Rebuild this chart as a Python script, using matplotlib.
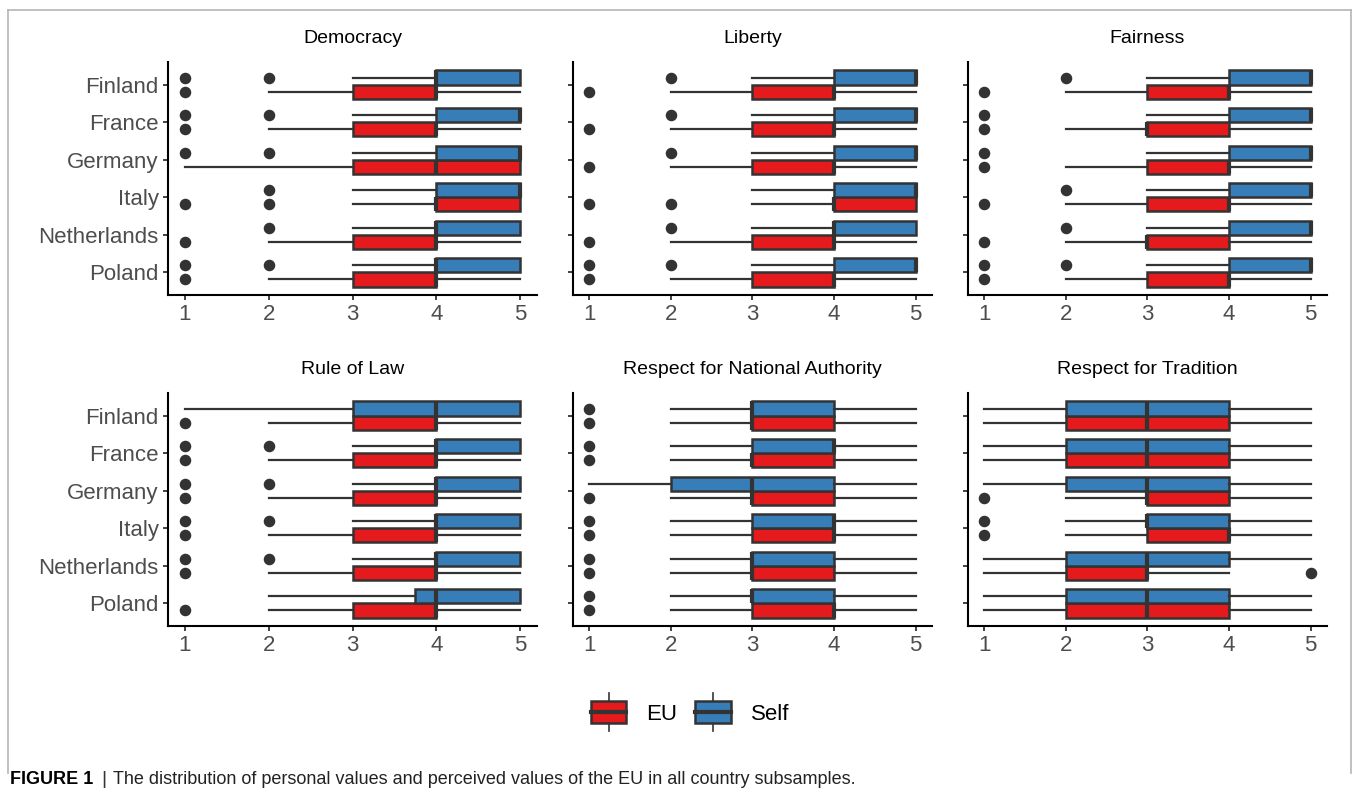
import matplotlib
matplotlib.use("Agg")
import matplotlib.pyplot as plt
from matplotlib.patches import Rectangle
from matplotlib.lines import Line2D
from matplotlib.legend_handler import HandlerBase

plt.rcParams['font.family'] = ['Liberation Sans', 'DejaVu Sans']

countries = ["Finland", "France", "Germany", "Italy", "Netherlands", "Poland"]
panel_titles = ["Democracy", "Liberty", "Fairness",
                "Rule of Law", "Respect for National Authority", "Respect for Tradition"]

# box stats per country (Finland..Poland): (whislo, q1, med, q3, whishi)
democracy_self = [(3, 4, 4, 5, 5), (3, 4, 5, 5, 5), (3, 4, 5, 5, 5), (3, 4, 5, 5, 5), (3, 4, 4, 5, 5), (3, 4, 4, 5, 5)]
democracy_self_out = [[1, 2], [1, 2], [1, 2], [2], [2], [1, 2]]
democracy_eu = [(2, 3, 4, 4, 5), (2, 3, 4, 4, 5), (1, 3, 4, 5, 5), (3, 4, 4, 5, 5), (2, 3, 4, 4, 5), (2, 3, 4, 4, 5)]
democracy_eu_out = [[1], [1], [], [1, 2], [1], [1]]

liberty_self = [(3, 4, 5, 5, 5), (3, 4, 5, 5, 5), (3, 4, 5, 5, 5), (3, 4, 5, 5, 5), (3, 4, 4, 5, 5), (3, 4, 5, 5, 5)]
liberty_self_out = [[2], [2], [2], [], [2], [1, 2]]
liberty_eu = [(2, 3, 4, 4, 5), (2, 3, 4, 4, 5), (2, 3, 4, 4, 5), (3, 4, 4, 5, 5), (2, 3, 4, 4, 5), (2, 3, 4, 4, 5)]
liberty_eu_out = [[1], [1], [1], [1, 2], [1], [1]]

fairness_self = [(3, 4, 5, 5, 5), (3, 4, 5, 5, 5), (3, 4, 5, 5, 5), (3, 4, 5, 5, 5), (3, 4, 5, 5, 5), (3, 4, 5, 5, 5)]
fairness_self_out = [[2], [1], [1], [2], [2], [1, 2]]
fairness_eu = [(2, 3, 4, 4, 5), (2, 3, 3, 4, 5), (2, 3, 4, 4, 5), (2, 3, 4, 4, 5), (2, 3, 3, 4, 5), (2, 3, 4, 4, 5)]
fairness_eu_out = [[1], [1], [1], [1], [1], [1]]

rule_self = [(1, 3, 4, 5, 5), (3, 4, 4, 5, 5), (3, 4, 4, 5, 5), (3, 4, 4, 5, 5), (3, 4, 4, 5, 5), (2, 3.75, 4, 5, 5)]
rule_self_out = [[], [1, 2], [1, 2], [1, 2], [1, 2], []]
rule_eu = [(2, 3, 4, 4, 5), (2, 3, 4, 4, 5), (2, 3, 4, 4, 5), (2, 3, 4, 4, 5), (2, 3, 4, 4, 5), (2, 3, 4, 4, 5)]
rule_eu_out = [[1], [1], [1], [1], [1], [1]]

authority_self = [(2, 3, 3, 4, 5), (2, 3, 4, 4, 5), (1, 2, 3, 4, 5), (2, 3, 4, 4, 5), (2, 3, 3, 4, 5), (2, 3, 3, 4, 5)]
authority_self_out = [[1], [1], [], [1], [1], [1]]
authority_eu = [(2, 3, 3, 4, 5), (2, 3, 3, 4, 5), (2, 3, 3, 4, 5), (2, 3, 4, 4, 5), (2, 3, 3, 4, 5), (2, 3, 4, 4, 5)]
authority_eu_out = [[1], [1], [1], [1], [1], [1]]

tradition_self = [(1, 2, 3, 4, 5), (1, 2, 3, 4, 5), (1, 2, 3, 4, 5), (2, 3, 3, 4, 5), (1, 2, 3, 4, 5), (1, 2, 3, 4, 5)]
tradition_self_out = [[], [], [], [1], [], []]
tradition_eu = [(1, 2, 3, 4, 5), (1, 2, 3, 4, 5), (2, 3, 3, 4, 5), (2, 3, 4, 4, 5), (1, 2, 3, 3, 4), (1, 2, 3, 4, 5)]
tradition_eu_out = [[], [], [1], [1], [5], []]

panel_data = [
    (democracy_self, democracy_self_out, democracy_eu, democracy_eu_out),
    (liberty_self, liberty_self_out, liberty_eu, liberty_eu_out),
    (fairness_self, fairness_self_out, fairness_eu, fairness_eu_out),
    (rule_self, rule_self_out, rule_eu, rule_eu_out),
    (authority_self, authority_self_out, authority_eu, authority_eu_out),
    (tradition_self, tradition_self_out, tradition_eu, tradition_eu_out),
]

EU_COL = "#E41A1C"
SELF_COL = "#377EB8"
DARK = "#333333"
BOXW = 0.375


def to_stats(rows, outs):
    st = []
    for (lo, q1, med, q3, hi), fl in zip(rows, outs):
        st.append(dict(whislo=lo, q1=q1, med=med, q3=q3, whishi=hi, fliers=fl))
    return st


def draw_boxes(ax, rows, outs, positions, color):
    ax.bxp(to_stats(rows, outs), positions=positions, widths=BOXW,
           orientation='horizontal', showcaps=False, patch_artist=True, manage_ticks=False,
           boxprops=dict(facecolor=color, edgecolor=DARK, linewidth=1.8),
           medianprops=dict(color=DARK, linewidth=3.0, solid_capstyle='butt'),
           whiskerprops=dict(color=DARK, linewidth=1.6),
           flierprops=dict(marker='o', markerfacecolor=DARK, markeredgecolor=DARK, markersize=7.3))


fig = plt.figure(figsize=(13.54, 7.93), dpi=100)

# panel rectangles in figure fraction
lefts = [0.1241, 0.4232, 0.7149]
widths = [0.2725, 0.2651, 0.2651]
bottoms = [0.628, 0.2106]
height = 0.2938

ypos = [5 - i for i in range(len(countries))]

for p in range(6):
    r, c = divmod(p, 3)
    ax = fig.add_axes([lefts[c], bottoms[r], widths[c], height])
    s_rows, s_out, e_rows, e_out = panel_data[p]
    draw_boxes(ax, e_rows, e_out, [y - BOXW / 2 for y in ypos], EU_COL)
    draw_boxes(ax, s_rows, s_out, [y + BOXW / 2 for y in ypos], SELF_COL)

    ax.set_xlim(0.8, 5.2)
    ax.set_ylim(-0.6, 5.6)
    ax.set_xticks([1, 2, 3, 4, 5])
    ax.set_yticks(ypos)
    if c == 0:
        ax.set_yticklabels(countries)
    else:
        ax.set_yticklabels([])
    for side in ['top', 'right']:
        ax.spines[side].set_visible(False)
    for side in ['left', 'bottom']:
        ax.spines[side].set_linewidth(1.5)
        ax.spines[side].set_color('black')
    ax.tick_params(axis='both', length=3.6, width=1.3, color=DARK,
                   labelsize=16, labelcolor='#4D4D4D', pad=3)
    ax.set_title(panel_titles[p], fontsize=14, color='black', pad=14)


class BoxKey(HandlerBase):
    def create_artists(self, legend, orig_handle, xdescent, ydescent, width, height, fontsize, trans):
        x0, y0 = -xdescent, -ydescent
        cx = x0 + width / 2
        ext = height * 0.4
        rect = Rectangle((x0, y0), width, height, facecolor=orig_handle.get_facecolor(),
                         edgecolor=DARK, linewidth=1.8, transform=trans)
        med = Line2D([x0, x0 + width], [y0 + height / 2] * 2, color=DARK, linewidth=3.0, transform=trans)
        w1 = Line2D([cx, cx], [y0 + height, y0 + height + ext], color=DARK, linewidth=1.2, transform=trans)
        w2 = Line2D([cx, cx], [y0, y0 - ext], color=DARK, linewidth=1.2, transform=trans)
        return [w1, w2, rect, med]


handles = [Rectangle((0, 0), 1, 1, facecolor=EU_COL), Rectangle((0, 0), 1, 1, facecolor=SELF_COL)]
fig.legend(handles, ["EU", "Self"], handler_map={Rectangle: BoxKey()},
           loc='center', bbox_to_anchor=(0.5096, 0.1009), ncol=2, frameon=False,
           fontsize=16, handlelength=1.6, handleheight=1.1, handletextpad=0.9,
           columnspacing=0.8)

# outer frame
frame_col = "#B5B5B5"
fig.add_artist(Line2D([0.006, 0.006], [0.025, 0.987], transform=fig.transFigure, color=frame_col, linewidth=1.2))
fig.add_artist(Line2D([0.006, 0.9978], [0.987, 0.987], transform=fig.transFigure, color=frame_col, linewidth=1.2))
fig.add_artist(Line2D([0.9978, 0.9978], [0.025, 0.987], transform=fig.transFigure, color=frame_col, linewidth=1.2))

# caption
fig.text(0.0074, 0.0164, "FIGURE 1", fontsize=13, fontweight='bold', va='center', ha='left')
fig.text(0.0745, 0.0164, "|", fontsize=14, va='center', ha='left', color='#333333')
fig.text(0.0835, 0.0164, "The distribution of personal values and perceived values of the EU in all country subsamples.",
         fontsize=13, va='center', ha='left', color='#222222')

fig.savefig("out.png", dpi=100)
